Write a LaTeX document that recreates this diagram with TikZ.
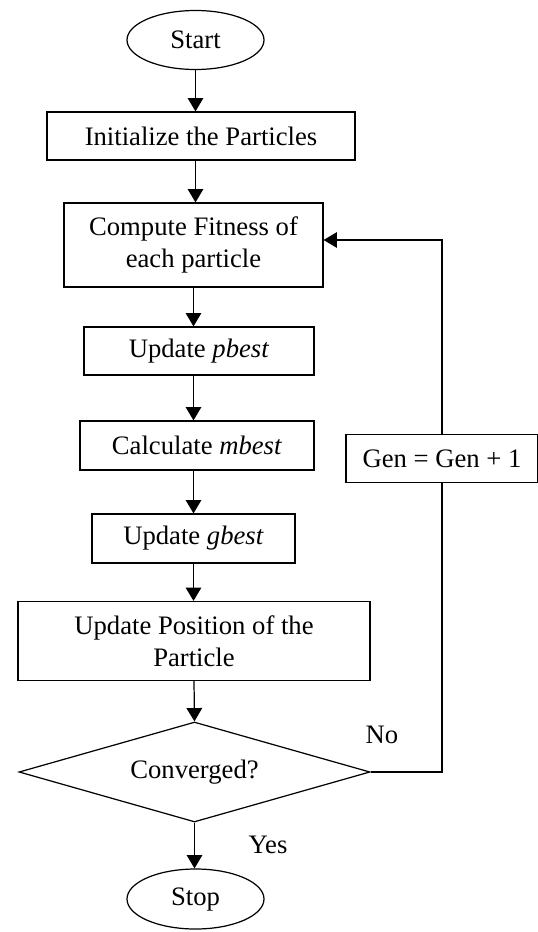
\documentclass[tikz,border=0pt]{standalone}
\usepackage{fontspec}
\setmainfont{Liberation Serif}
\usetikzlibrary{shapes.geometric,arrows.meta}
\begin{document}
\begin{tikzpicture}[x=0.45pt,y=-0.45pt,
  every node/.style={font=\fontsize{12}{14.5}\selectfont, inner sep=0pt},
  boxnode/.style={draw, line width=0.55pt, rectangle, align=center},
  ovalnode/.style={draw, line width=0.55pt, ellipse},
  decnode/.style={draw, line width=0.55pt, diamond, shape aspect=3.5},
  arr/.style={line width=0.55pt, -{Triangle[length=6pt,width=7pt]}},
  ln/.style={line width=0.55pt}]
\useasboundingbox (0,0) rectangle (537,932);
\node[ovalnode, minimum width=137*0.45pt, minimum height=59*0.45pt] (start) at (195.5,40) {Start};
\node[boxnode, minimum width=308*0.45pt, minimum height=48*0.45pt] (init) at (201,136) {Initialize the Particles};
\node[boxnode, minimum width=259*0.45pt, minimum height=84*0.45pt] (fit) at (193.5,245) {Compute Fitness of\\each particle};
\node[boxnode, minimum width=230*0.45pt, minimum height=48*0.45pt] (pbest) at (199,351) {Update \textit{pbest}};
\node[boxnode, minimum width=234*0.45pt, minimum height=49*0.45pt] (mbest) at (197,445.5) {Calculate \textit{mbest}};
\node[boxnode, minimum width=203*0.45pt, minimum height=49*0.45pt] (gbest) at (193.5,538.5) {Update \textit{gbest}};
\node[boxnode, minimum width=352*0.45pt, minimum height=79*0.45pt] (pos) at (194,641) {Update Position of the\\Particle};
\node[decnode, minimum width=351*0.45pt, minimum height=100*0.45pt] (conv) at (194.5,772) {Converged?};
\node[ovalnode, minimum width=137*0.45pt, minimum height=60*0.45pt] (stop) at (195.5,899) {Stop};
\node[boxnode, minimum width=192*0.45pt, minimum height=48*0.45pt] (gen) at (442,458.5) {Gen = Gen + 1};
\node (no) at (382,735) {No};
\node (yes) at (268,845) {Yes};
\coordinate (ret) at (442,240);
\draw[arr] (start.south) -- (start.south |- init.north);
\draw[arr] (start.south |- init.south) -- (start.south |- fit.north);
\draw[arr] (fit.south) -- (fit.south |- pbest.north);
\draw[arr] (fit.south |- pbest.south) -- (fit.south |- mbest.north);
\draw[arr] (fit.south |- mbest.south) -- (fit.south |- gbest.north);
\draw[arr] (fit.south |- gbest.south) -- (fit.south |- pos.north);
\draw[arr] (pos.south) -- (conv.north);
\draw[arr] (conv.south) -- (conv.south |- stop.north);
\draw[ln] (conv.east) -| (gen.south);
\draw[arr] (gen.north) -- (ret) -- (fit.east |- ret);
\end{tikzpicture}
\end{document}
